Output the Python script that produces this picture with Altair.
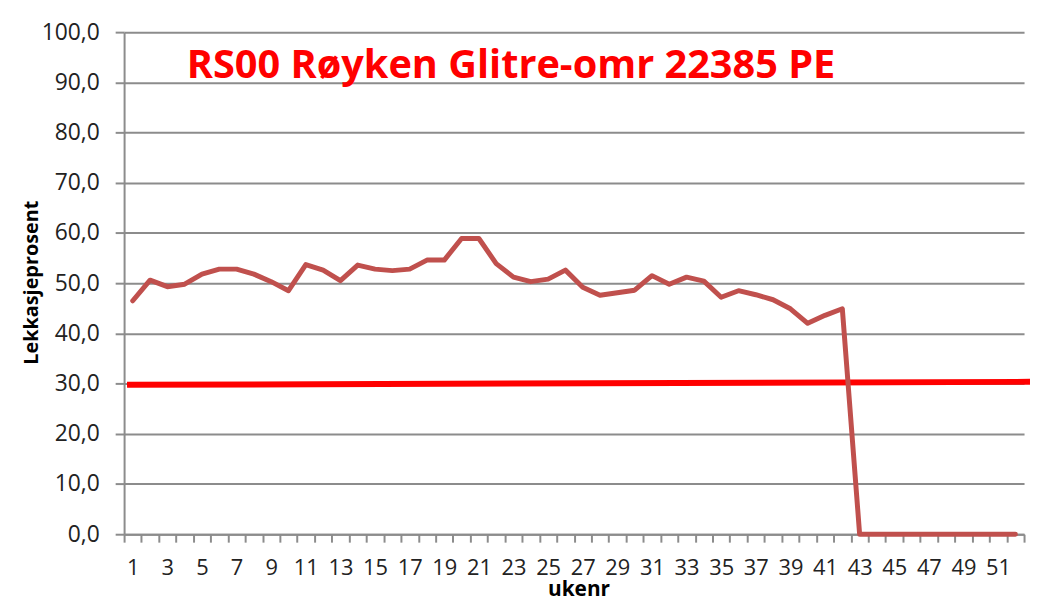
import altair as alt
import pandas as pd

# ---- data ----
weeks = list(range(1, 53))
leak_pct = [46.5, 50.6, 49.3, 49.8, 51.8, 52.8, 52.8, 51.8, 50.3, 48.5,
            53.7, 52.6, 50.5, 53.6, 52.8, 52.5, 52.8, 54.6, 54.6, 58.9,
            58.9, 53.9, 51.2, 50.3, 50.8, 52.6, 49.2, 47.6, 48.1, 48.6,
            51.5, 49.8, 51.2, 50.4, 47.2, 48.5, 47.7, 46.7, 44.9, 42.0,
            43.6, 44.9, 0.0, 0.0, 0.0, 0.0, 0.0, 0.0, 0.0, 0.0, 0.0, 0.0]
target_weeks = [0.67, 53.0]
target_pct = [29.75, 30.35]
title_text = "RS00 Røyken Glitre-omr 22385 PE"
y_title = "Lekkasjeprosent"
x_title = "ukenr"

df_line = pd.DataFrame({"uke": weeks, "verdi": leak_pct})
df_target = pd.DataFrame({"uke": target_weeks, "verdi": target_pct})

W, H = 907, 506
GRAY = "#8c8c8c"
TXT = "#222222"
FONT = "Open Sans"

x_enc = alt.X(
    "uke:Q",
    scale=alt.Scale(domain=[0.5, 52.5], nice=False, zero=False),
    axis=alt.Axis(
        title=x_title,
        values=[i + 0.5 for i in range(0, 53)],
        labelExpr="datum.value < 52 && (datum.value + 0.5) % 2 == 1 ? format(datum.value + 0.5, 'd') : ''",
        labelOffset=W / 52 / 2,
        labelOverlap=False,
        labelFlush=False,
        labelBound=False,
        labelPadding=16,
        labelFont=FONT,
        labelFontSize=22,
        labelColor=TXT,
        grid=False,
        domain=True,
        domainColor=GRAY,
        domainWidth=2,
        ticks=True,
        tickColor=GRAY,
        tickWidth=2,
        tickSize=8,
        titleFont=FONT,
        titleFontSize=21,
        titleFontWeight="bold",
        titleColor="#000000",
        titleX=458,
        titleY=62,
        titleBaseline="alphabetic",
    ),
)

y_enc = alt.Y(
    "verdi:Q",
    scale=alt.Scale(domain=[0, 100], nice=False),
    axis=alt.Axis(
        title=y_title,
        values=list(range(0, 101, 10)),
        labelExpr="replace(format(datum.value, '.1f'), '.', ',')",
        labelPadding=16,
        labelFont=FONT,
        labelFontSize=23,
        labelColor=TXT,
        grid=True,
        gridColor=GRAY,
        gridWidth=2,
        domain=True,
        domainColor=GRAY,
        domainWidth=2,
        ticks=True,
        tickColor=GRAY,
        tickWidth=2,
        tickSize=9,
        titleFont=FONT,
        titleFontSize=20,
        titleFontWeight="bold",
        titleColor="#000000",
        titleX=-83,
        titleY=252,
        titleAngle=270,
        titleBaseline="bottom",
        titleAlign="center",
    ),
)

line = alt.Chart(df_line).mark_line(
    color="#c0504d", strokeWidth=5, strokeJoin="round", strokeCap="round"
).encode(x=x_enc, y=y_enc)

target = alt.Chart(df_target).mark_line(
    color="#ff0000", strokeWidth=6, clip=False
).encode(x=x_enc, y=y_enc)

title = alt.Chart(pd.DataFrame({"t": [title_text]})).mark_text(
    font=FONT, fontSize=40, fontWeight="bold", color="#ff0000",
    align="center", baseline="alphabetic"
).encode(x=alt.value(390), y=alt.value(46), text="t:N")

chart = alt.layer(target, line, title).properties(
    width=W, height=H,
    autosize=alt.AutoSizeParams(type="none"),
    padding={"left": 117, "top": 22, "right": 6, "bottom": 67},
    background="white",
).configure_view(stroke=None)

chart.save("out.html", embed_options={"renderer": "svg", "actions": False})
